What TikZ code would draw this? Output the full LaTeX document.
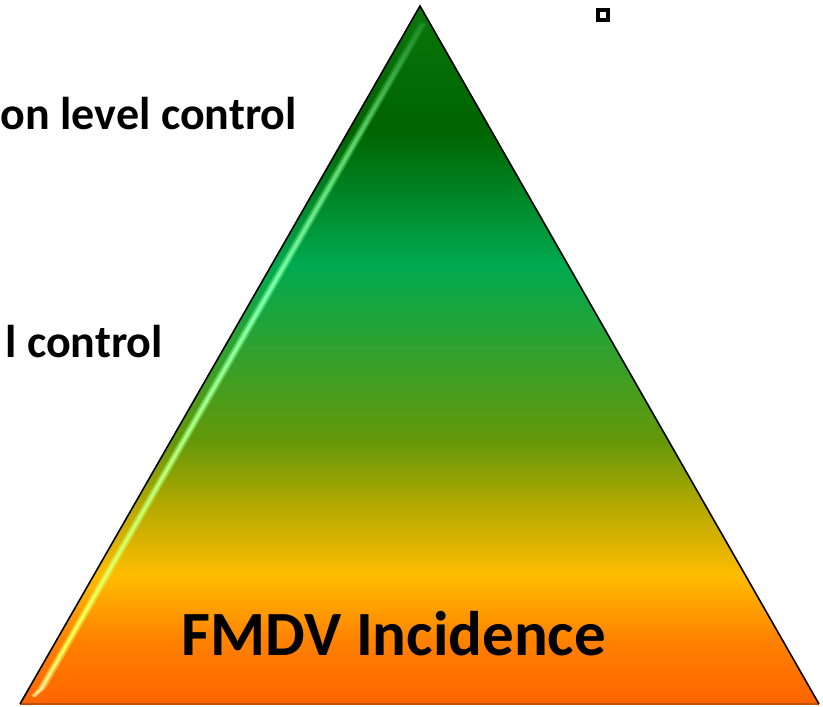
\documentclass[tikz,border=0pt]{standalone}
\usepackage{fontspec}
\setmainfont{Carlito}
\definecolor{pOr}{RGB}{255,100,0}
\definecolor{pOa}{RGB}{255,130,0}
\definecolor{pYo}{RGB}{255,188,0}
\definecolor{pOc}{RGB}{185,170,0}
\definecolor{pOl}{RGB}{100,152,10}
\definecolor{pBg}{RGB}{0,170,80}
\definecolor{pDg}{RGB}{0,100,0}
\definecolor{pTp}{RGB}{10,118,10}
\definecolor{hB}{RGB}{255,235,150}
\definecolor{hY}{RGB}{255,255,80}
\definecolor{hL}{RGB}{190,255,110}
\definecolor{hC}{RGB}{120,255,170}
\definecolor{hG}{RGB}{90,210,100}
\definecolor{hT}{RGB}{30,140,40}
\definecolor{edgeB}{RGB}{190,80,0}
\pgfdeclareverticalshading{pyr}{100bp}{
  color(0bp)=(pOr);
  color(25bp)=(pOr);
  color(29.6bp)=(pOa);
  color(34.2bp)=(pYo);
  color(38.9bp)=(pOc);
  color(43.9bp)=(pOl);
  color(56.4bp)=(pBg);
  color(66.1bp)=(pDg);
  color(75bp)=(pTp);
  color(100bp)=(pTp)}
\pgfdeclareverticalshading{hil}{100bp}{
  color(0bp)=(hB);
  color(25bp)=(hB);
  color(29bp)=(hY);
  color(40bp)=(hL);
  color(55bp)=(hC);
  color(66bp)=(hG);
  color(75bp)=(hT);
  color(100bp)=(hT)}
\tikzset{
  lbl/.style={inner sep=0pt, font=\fontsize{46bp}{50bp}\selectfont\bfseries},
  biglbl/.style={inner sep=0pt, font=\fontsize{63bp}{68bp}\selectfont\bfseries},
}
\begin{document}
\begin{tikzpicture}[x=1bp,y=-1bp]
\useasboundingbox (0,0) rectangle (823,707);
\coordinate (apex) at (420,6);
\coordinate (bl) at (20,704);
\coordinate (br) at (819,704);
\shade[shading=pyr] (apex) -- (br) -- (bl) -- cycle;
% glossy highlight: soft glow and bright core
\shade[shading=hil, opacity=0.45] (419,22) -- (427,24) -- (46,688) -- (36,697) -- (31,696) -- (38,688) -- cycle;
\shade[shading=hil] (421,23) -- (425,24) -- (43,689) -- (34,697) -- (33,696) -- (40,688) -- cycle;
\draw[edgeB, line width=1.5bp] (bl) -- (br);
\draw[black, line width=1.6bp, line join=miter] (bl) -- (apex) -- (br);
% small square
\node[draw=black, line width=3.5bp, minimum size=10bp, inner sep=0pt] (sq) at (603,15) {};
% labels
\node[lbl, anchor=base east] (t1) at (297,130) {on level control};
\node[lbl, anchor=base east] (t2) at (163,357) {l control};
\node[biglbl, anchor=base] (t3) at (394,655) {FMDV Incidence};
\end{tikzpicture}
\end{document}
